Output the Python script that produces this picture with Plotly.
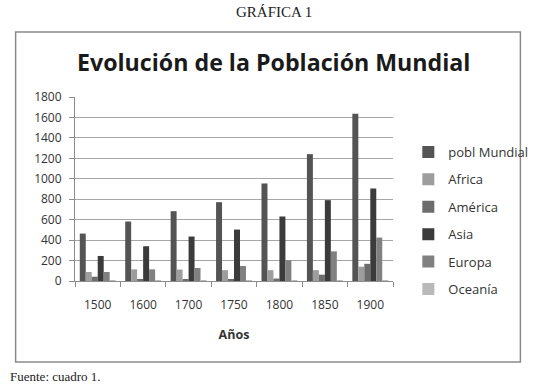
import plotly.graph_objects as go

years = ["1500", "1600", "1700", "1750", "1800", "1850", "1900"]
pobl_mundial = [464, 582, 683, 771, 954, 1241, 1636]
africa = [88, 114, 112, 106, 106, 106, 140]
america = [42, 12, 12, 18, 24, 62, 168]
asia = [245, 340, 435, 503, 631, 791, 905]
europa = [88, 114, 127, 147, 203, 290, 425]
oceania = [3, 3, 3, 2, 2, 2, 6]

series_names = ["pobl Mundial", "Africa", "América", "Asia", "Europa", "Oceanía"]
series_values = [pobl_mundial, africa, america, asia, europa, oceania]
colors = ["#545454", "#9d9d9d", "#6c6c6c", "#3b3b3b", "#808080", "#b9b9b9"]

W, H = 545, 387
L, R, T, B = 75, 407, 97, 281  # plot area in page pixels


def px(x):
    return (x - L) / (R - L)


def py(y):
    return (B - y) / (B - T)


fig = go.Figure()
for i, (name, vals, col) in enumerate(zip(series_names, series_values, colors)):
    fig.add_trace(go.Bar(x=years, y=vals, name=name, marker_color=col,
                         marker_line_width=0, legendgroup=str(i)))

FONT = "Open Sans"
fig.update_layout(
    width=W, height=H,
    margin=dict(l=L, r=W - R, t=T, b=H - B, pad=0),
    paper_bgcolor="white", plot_bgcolor="white",
    barmode="group", bargap=0.21, bargroupgap=0,
    font=dict(family=FONT, size=12, color="#333333"),
    showlegend=True,
    legend=dict(x=px(423), y=py(137), xanchor="left", yanchor="top",
                font=dict(family=FONT, size=13, color="#333333"),
                tracegroupgap=7.5, itemwidth=30, bgcolor="rgba(0,0,0,0)"),
    xaxis=dict(type="category", showline=True, linecolor="#8c8c8c", linewidth=1,
               ticks="outside", tickson="boundaries", ticklen=5, tickcolor="#8c8c8c",
               ticklabelstandoff=13,
               tickfont=dict(family=FONT, size=12, color="#333333"),
               title=dict(text="<b>Años</b>", standoff=17,
                          font=dict(family=FONT, size=12.5, color="#333333"))),
    yaxis=dict(range=[0, 1800], dtick=200, showline=True, linecolor="#8c8c8c",
               linewidth=1, ticks="outside", ticklen=5, tickcolor="#8c8c8c",
               showgrid=True, gridcolor="#a6a6a6", gridwidth=1.3,
               ticklabelstandoff=5,
               tickfont=dict(family=FONT, size=12, color="#333333"),
               zeroline=False),
    shapes=[dict(type="rect", xref="paper", yref="paper",
                 x0=px(13), x1=px(540), y0=py(362), y1=py(32),
                 line=dict(color="#8a8a8a", width=1.5), layer="below")],
    annotations=[
        dict(text="<b>Evolución de la Población Mundial</b>", xref="paper", yref="paper",
             x=px(282), y=py(62), xanchor="center", yanchor="middle", showarrow=False,
             font=dict(family=FONT, size=23.2, color="#1a1a1a")),
        dict(text="GRÁFICA 1", xref="paper", yref="paper",
             x=px(283), y=py(12), xanchor="center", yanchor="middle", showarrow=False,
             font=dict(family="Liberation Serif", size=15, color="#222222")),
        dict(text="Fuente: cuadro 1.", xref="paper", yref="paper",
             x=px(5), y=py(376), xanchor="left", yanchor="middle", showarrow=False,
             font=dict(family="Liberation Serif", size=13, color="#222222")),
    ],
)

fig.write_html("out.html", config={"displayModeBar": False},
               post_script="document.body.style.margin='0';document.body.style.overflow='hidden';")
